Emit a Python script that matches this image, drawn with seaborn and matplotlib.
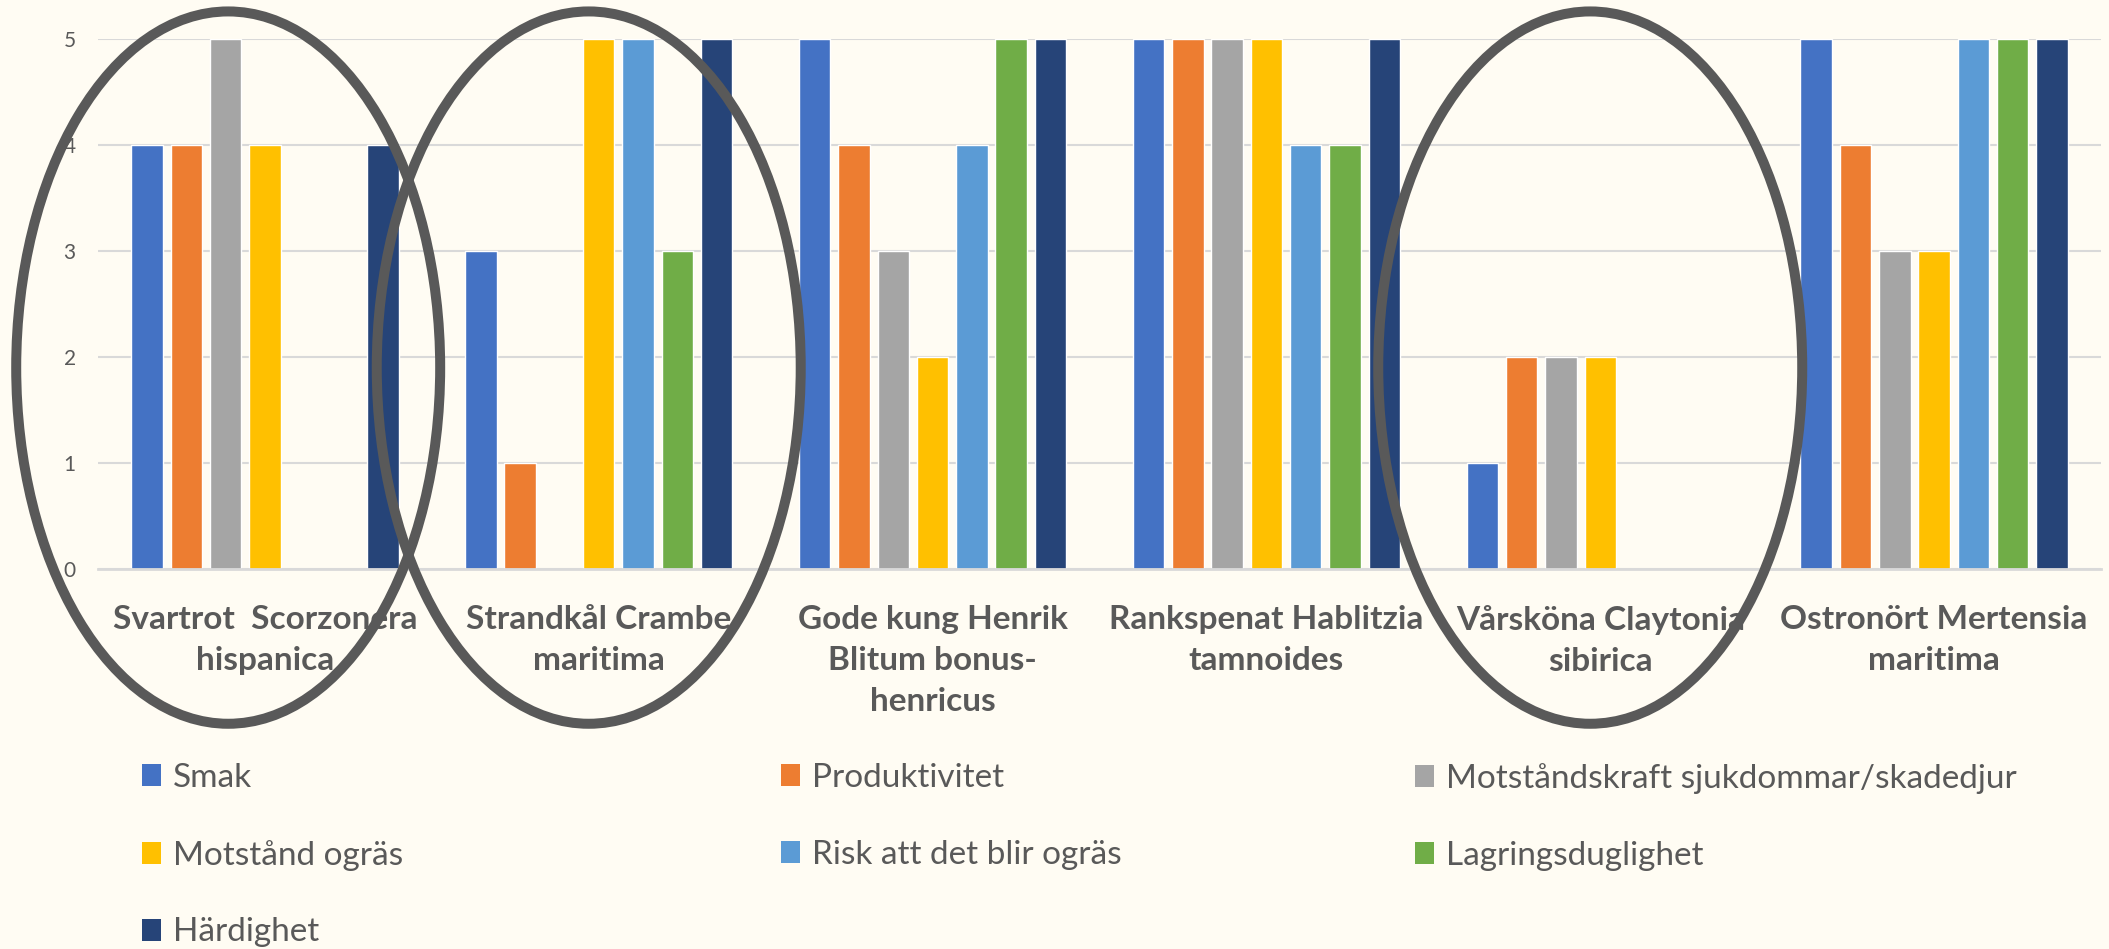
import numpy as np
import pandas as pd
import matplotlib
matplotlib.use("Agg")
import matplotlib.pyplot as plt
from matplotlib.patches import Ellipse, Patch
import seaborn as sns

# ─── DATA ───────────────────────────────────────────────
categories = [
    "Svartrot  Scorzonera\nhispanica",
    "Strandkål Crambe\nmaritima",
    "Gode kung Henrik\nBlitum bonus-\nhenricus",
    "Rankspenat Hablitzia\ntamnoides",
    "Vårsköna Claytonia\nsibirica",
    "Ostronört Mertensia\nmaritima",
]
series = [
    "Smak",
    "Produktivitet",
    "Motståndskraft sjukdommar/skadedjur",
    "Motstånd ogräs",
    "Risk att det blir ogräs",
    "Lagringsduglighet",
    "Härdighet",
]
nan = np.nan
smak        = [4, 3, 5, 5, 1, 5]
produktiv   = [4, 1, 4, 5, 2, 4]
motstand_sj = [5, nan, 3, 5, 2, 3]
motstand_og = [4, 5, 2, 5, 2, 3]
risk_ogras  = [nan, 5, 4, 4, nan, 5]
lagring     = [nan, 3, 5, 4, nan, 5]
hardighet   = [4, 5, 5, 5, nan, 5]
yticks = [0, 1, 2, 3, 4, 5]

# categories that are circled in the original
circled = [0, 1, 4]
circle_dx = [-0.11, -0.03, -0.03]

colors = ["#4472C4", "#ED7D31", "#A5A5A5", "#FFC000", "#5B9BD5", "#70AD47", "#264478"]
BG = "#FFFCF3"
TXT = "#595959"

values = [smak, produktiv, motstand_sj, motstand_og, risk_ogras, lagring, hardighet]
rows = []
for s, vals in zip(series, values):
    for c, v in zip(categories, vals):
        rows.append({"kategori": c, "serie": s, "varde": v})
df = pd.DataFrame(rows)

# ─── PLOT ───────────────────────────────────────────────
sns.set_style("white")
plt.rcParams["font.family"] = ["Lato", "DejaVu Sans"]

fig = plt.figure(figsize=(21.09, 9.49), dpi=100, facecolor=BG)
ax = fig.add_axes([98 / 2109, 1 - 569 / 949, 2003 / 2109, 530 / 949])
ax.set_facecolor(BG)

sns.barplot(data=df, x="kategori", y="varde", hue="serie",
            order=categories, hue_order=series, palette=colors,
            width=0.824, gap=0.2, saturation=1, ax=ax, legend=False)

ax.set_xlim(-0.5, len(categories) - 0.5)
ax.set_ylim(0, 5)
ax.set_yticks(yticks)
ax.grid(axis="y", color="#D9D9D9", lw=1.5)
ax.set_axisbelow(True)
for sp in ["top", "right", "left"]:
    ax.spines[sp].set_visible(False)
ax.spines["bottom"].set_color("#D9D9D9")
ax.spines["bottom"].set_linewidth(2)
ax.set_xlabel("")
ax.set_ylabel("")
ax.tick_params(axis="both", length=0)
ax.tick_params(axis="y", labelsize=15, labelcolor=TXT, pad=16)
ax.tick_params(axis="x", labelsize=24, labelcolor=TXT, pad=26)
for lab in ax.get_xticklabels():
    lab.set_fontweight("bold")
    lab.set_linespacing(1.5)

# ellipses drawn around some of the categories
for i, dx in zip(circled, circle_dx):
    e = Ellipse((i + dx, 1.90), width=1.27, height=6.72, fill=False,
                edgecolor="#595959", lw=7.2, clip_on=False, zorder=5)
    ax.add_patch(e)

# legend, three columns laid out row by row like the original
handles = [Patch(facecolor=c, edgecolor="none") for c in colors]
col_x = [142 / 2109, 781 / 2109, 1415 / 2109]
col_items = [[0, 3, 6], [1, 4], [2, 5]]
for x, items in zip(col_x, col_items):
    fig.legend([handles[k] for k in items], [series[k] for k in items],
               loc="upper left", bbox_to_anchor=(x, 1 - 763 / 949),
               frameon=False, fontsize=24, labelcolor=TXT,
               handlelength=0.58, handleheight=0.64, handletextpad=0.35,
               labelspacing=1.4, borderpad=0, borderaxespad=0)

fig.savefig("out.png", dpi=100, facecolor=BG)
